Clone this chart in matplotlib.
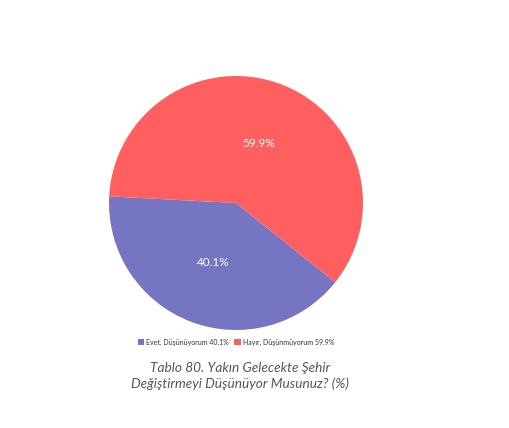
import matplotlib
matplotlib.use("Agg")
import matplotlib.pyplot as plt
from matplotlib.patches import Patch

labels = ["Evet, Düşünüyorum", "Hayır, Düşünmüyorum"]
values = [40.1, 59.9]
colors = ["#7575C1", "#FF5F5F"]
title = "Tablo 80. Yakın Gelecekte Şehir\nDeğiştirmeyi Düşünüyor Musunuz? (%)"

plt.rcParams['font.family'] = ['Lato', 'DejaVu Sans']

fig = plt.figure(figsize=(5.09, 4.28), dpi=100)
W, H = 509, 428
cx, cy, r = 236, 203, 127
ax = fig.add_axes([(cx - r) / W, (H - cy - r) / H, 2 * r / W, 2 * r / H])
wedges, texts, autotexts = ax.pie(values, colors=colors, startangle=177, counterclock=True,
                                  autopct='%1.1f%%', pctdistance=0.5,
                                  textprops=dict(color='white', fontsize=8.5))
ax.set_aspect('equal')
ax.set_xlim(-1, 1)
ax.set_ylim(-1, 1)

handles = [Patch(facecolor=c, edgecolor='none') for c in colors]
leg_labels = [f"{l} {v}%" for l, v in zip(labels, values)]
fig.legend(handles, leg_labels, loc='center', bbox_to_anchor=(236 / W, 1 - 342 / H),
           ncol=2, frameon=False, fontsize=5, handlelength=0.9, handleheight=0.9,
           handletextpad=0.3, columnspacing=0.8, labelcolor='#333333')

fig.text(240 / W, 1 - 376 / H, title, ha='center', va='center', fontsize=9.8,
         style='italic', color='#555555', fontweight='normal', linespacing=1.3)

fig.savefig("out.png", dpi=100)
